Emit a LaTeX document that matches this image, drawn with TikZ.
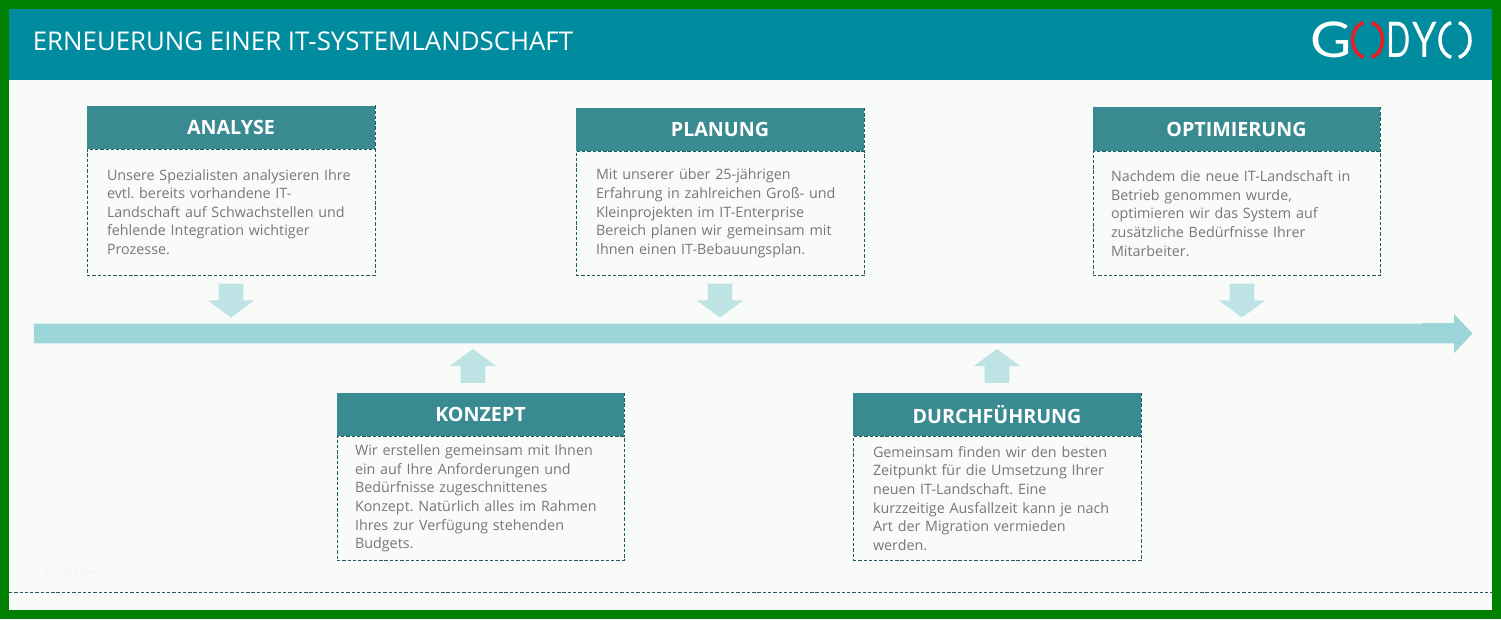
\documentclass[tikz,border=0pt]{standalone}
\usepackage{fontspec}
\setmainfont{Open Sans}
\newfontfamily\logofont{Lato}
\usetikzlibrary{positioning,shapes.arrows}
\definecolor{framegreen}{HTML}{008000}
\definecolor{bannerteal}{HTML}{008C9E}
\definecolor{paper}{HTML}{F9FBF8}
\definecolor{headteal}{HTML}{3A8A91}
\definecolor{dashteal}{HTML}{1F5A5F}
\definecolor{bodygray}{HTML}{777777}
\definecolor{stemcol}{HTML}{9DD6D9}
\definecolor{pointercol}{HTML}{BEE3E5}
\definecolor{logored}{HTML}{ED1C24}
\tikzset{
 dashline/.style={draw=dashteal,line width=0.5pt,dash pattern=on 1.9pt off 1.1pt},
 headbox/.style={fill=headteal,text=white,minimum width=5.76cm,inner sep=0pt,font=\fontsize{11.2}{12}\selectfont\bfseries},
 bodybox/.style={dashline,fill=paper,text=bodygray,minimum width=5.76cm,inner ysep=0pt,align=left,font=\fontsize{8.15}{10.6}\selectfont\frenchspacing},
 pointer/.style={single arrow,fill=pointercol,inner xsep=0pt,inner ysep=0.24cm,minimum width=0.92cm,minimum height=0.68cm,single arrow head extend=0.22cm,single arrow tip angle=107,single arrow head indent=0pt},
 logoarc/.style={line width=2pt},
 logoletter/.style={text=white,inner sep=0pt,font=\fontsize{28}{30}\selectfont\logofont},
}
\begin{document}
\begin{tikzpicture}[x=0.02cm,y=-0.02cm]
 \useasboundingbox (0,0) rectangle (1501,619);
 \fill[framegreen] (0,0) rectangle (1501,619); %frame
 \fill[paper] (9,80) rectangle (1492,610);
 \fill[bannerteal] (9,9) rectangle (1492,80);
 \node[anchor=west,text=white,inner sep=0pt,font=\fontsize{14.7}{16}\selectfont] (title) at (32.5,41) {ERNEUERUNG EINER IT-SYSTEMLANDSCHAFT};

 %logo
 \node[logoletter,xscale=1.15] (logog) at (1331,40) {G};
 \draw[logored,logoarc] (1363.6,22.6) arc (-105:-255:15 and 18);
 \draw[logored,logoarc] (1371.4,22.6) arc (-75:75:15 and 18);
 \node[logoletter,xscale=0.65] (logod) at (1398.5,40) {D};
 \node[logoletter,xscale=0.8] (logoy) at (1425,40) {Y};
 \draw[white,logoarc] (1451.1,22.6) arc (-105:-255:15 and 18);
 \draw[white,logoarc] (1458.9,22.6) arc (-75:75:15 and 18);

 %timeline
 \node[single arrow,fill=stemcol,inner xsep=0pt,inner ysep=0.19cm,minimum width=0.76cm,minimum height=28.78cm,single arrow head extend=0.19cm,single arrow tip angle=93,single arrow head indent=0pt] (timeline) at (748.5,333.5) {};
 \fill[stemcol] (1422,323) rectangle (1456,342);

 %upper row
 \node[bodybox,minimum height=2.52cm,text width=4.96cm,inner xsep=0.40cm] (analysebody) at (231,212) {Unsere Spezialisten analysieren Ihre\\evtl. bereits vorhandene IT-\\Landschaft auf Schwachstellen und\\fehlende Integration wichtiger\\Prozesse.};
 \node[headbox,minimum height=0.86cm,above=-0.3pt of analysebody] (analysehead) {ANALYSE};
 \node[bodybox,minimum height=2.48cm,text width=4.96cm,inner xsep=0.40cm] (planungbody) at (720,213.5) {Mit unserer über 25-jährigen\\Erfahrung in zahlreichen Groß- und\\Kleinprojekten im IT-Enterprise\\Bereich planen wir gemeinsam mit\\Ihnen einen IT-Bebauungsplan.};
 \node[headbox,minimum height=0.86cm,above=-0.3pt of planungbody] (planunghead) {PLANUNG};
 \node[bodybox,minimum width=5.74cm,minimum height=2.48cm,text width=5.02cm,inner xsep=0.36cm] (optimbody) at (1236.5,213.5) {Nachdem die neue IT-Landschaft in\\Betrieb genommen wurde,\\optimieren wir das System auf\\zusätzliche Bedürfnisse Ihrer\\Mitarbeiter.};
 \node[headbox,minimum width=5.74cm,minimum height=0.88cm,above=-0.3pt of optimbody] (optimhead) {OPTIMIERUNG};

 %lower row
 \node[bodybox,minimum width=5.74cm,minimum height=2.48cm,text width=5.02cm,inner xsep=0.36cm] (konzeptbody) at (480.5,498.5) {Wir erstellen gemeinsam mit Ihnen\\ein auf Ihre Anforderungen und\\Bedürfnisse zugeschnittenes\\Konzept. Natürlich alles im Rahmen\\Ihres zur Verfügung stehenden\\Budgets.};
 \node[headbox,minimum width=5.74cm,minimum height=0.86cm,above=-0.3pt of konzeptbody] (konzepthead) {KONZEPT};
 \node[bodybox,minimum height=2.48cm,text width=4.96cm,inner xsep=0.40cm] (durchbody) at (997,498.5) {Gemeinsam finden wir den besten\\Zeitpunkt für die Umsetzung Ihrer\\neuen IT-Landschaft. Eine\\kurzzeitige Ausfallzeit kann je nach\\Art der Migration vermieden\\werden.};
 \node[headbox,minimum height=0.86cm,above=-0.3pt of durchbody] (durchhead) {DURCHFÜHRUNG};

 %dashed edge of the headers
 \foreach \n in {analysehead,planunghead,optimhead,konzepthead,durchhead}
  \draw[dashline] (\n.north east)--(\n.south east);

 %pointers
 \node[pointer,rotate=270] (analysept) at (231,296) {};
 \node[pointer,rotate=270] (planungpt) at (720,296) {};
 \node[pointer,rotate=270] (optimpt) at (1242,296) {};
 \node[pointer,rotate=90] (konzeptpt) at (473,370.5) {};
 \node[pointer,rotate=90] (durchpt) at (997,370.5) {};

 %bottom
 \node[text=black!5,inner sep=0pt,font=\fontsize{5.5}{6}\selectfont] (watermark) at (75,573) {Vorlage Ideen};
 \draw[dashline] (9,592)--(1492,592);
\end{tikzpicture}
\end{document}
